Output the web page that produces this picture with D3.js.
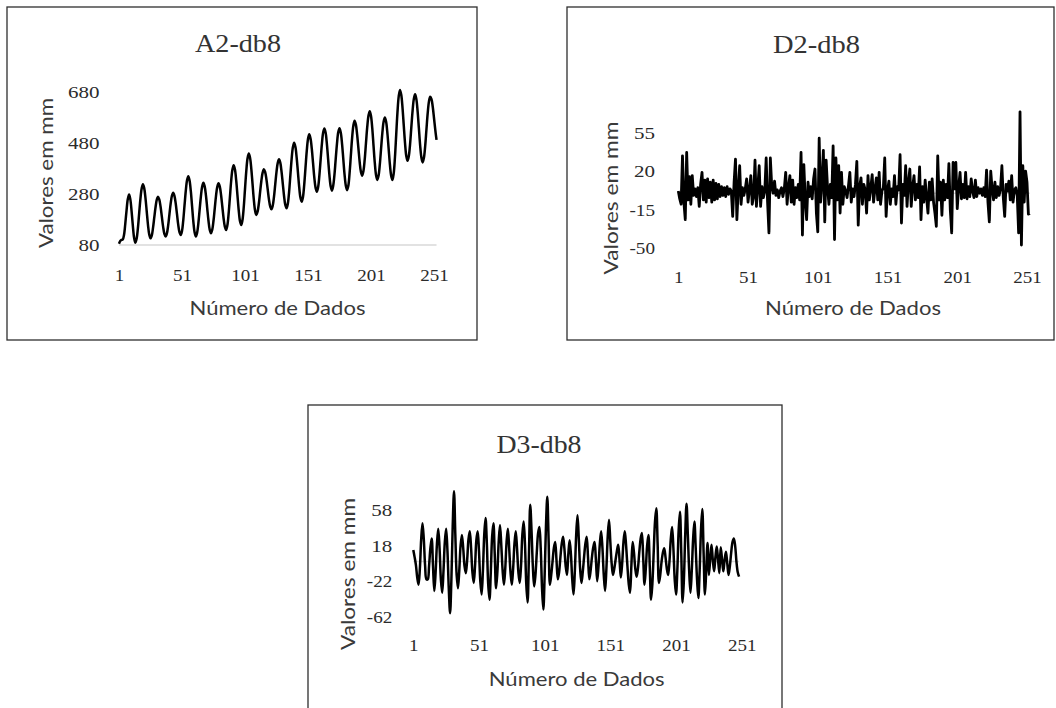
<!DOCTYPE html>
<html>
<head>
<meta charset="utf-8">
<script src="https://cdnjs.cloudflare.com/ajax/libs/d3/7.8.5/d3.min.js"></script>
<style>
  body { margin: 0; background: #fff; }
  svg { display: block; }
  .frame { fill: none; stroke: #2e2e2e; stroke-width: 1.3; }
  .title { font-family: "Liberation Serif", serif; font-size: 26px; fill: #333; }
  .tick text { font-family: "Liberation Serif", serif; font-size: 17px; fill: #2b2b2b; }
  .axis-title { font-family: Lato, "Liberation Sans", sans-serif; font-size: 20px; fill: #3a3a3a; }
  .series { fill: none; stroke: #000; stroke-width: 2.5; stroke-linejoin: round; }
  .dense { stroke-width: 2.8; }
  .zero { stroke: #d9d9d9; stroke-width: 1.5; }
</style>
</head>
<body>
<svg id="chart" width="1056" height="708"></svg>
<script>
// category ticks shared by the three panels
var xTicks = [1, 51, 101, 151, 201, 251];

var a2Ticks = [80, 280, 480, 680];
var d2Ticks = [-50, -15, 20, 55];
var d3Ticks = [-62, -22, 18, 58];

// approximation A2 (db8)
var a2Values = [
  85, 96, 100, 102, 120, 164, 216, 260, 278, 259,
  212, 155, 108, 89, 105, 146, 204, 261, 302, 318,
  303, 265, 212, 159, 121, 106, 117, 147, 188, 228,
  258, 269, 258, 230, 191, 152, 124, 113, 125, 156,
  199, 242, 273, 285, 273, 243, 202, 160, 130, 119,
  135, 177, 235, 292, 334, 350, 333, 291, 232, 172,
  130, 113, 128, 166, 219, 271, 309, 324, 310, 275,
  225, 176, 140, 126, 140, 175, 224, 273, 308, 322,
  309, 276, 231, 185, 152, 139, 157, 203, 266, 330,
  375, 393, 377, 334, 276, 217, 174, 158, 178, 228,
  299, 369, 419, 439, 422, 379, 319, 258, 215, 198,
  211, 243, 288, 332, 364, 377, 366, 338, 299, 259,
  231, 220, 234, 269, 318, 367, 402, 416, 403, 368,
  320, 272, 237, 224, 242, 288, 353, 417, 463, 481,
  465, 423, 366, 308, 266, 250, 268, 316, 382, 448,
  496, 514, 498, 458, 402, 345, 305, 289, 306, 351,
  413, 475, 520, 537, 520, 476, 415, 354, 310, 293,
  312, 356, 418, 478, 522, 538, 521, 478, 418, 357,
  313, 295, 312, 362, 430, 499, 548, 567, 552, 513,
  460, 406, 367, 352, 370, 415, 479, 542, 587, 605,
  586, 538, 470, 403, 354, 335, 352, 396, 458, 519,
  563, 580, 563, 519, 458, 396, 352, 335, 360, 423,
  512, 600, 663, 688, 669, 619, 549, 480, 429, 410,
  428, 475, 541, 606, 653, 671, 652, 604, 538, 471,
  423, 404, 422, 468, 533, 597, 643, 661, 652, 622,
  578, 532, 492
];

// detail D2 (db8)
var d2Values = [
  2, -5, -10, 34, -8, -24, 37, -6, 15, -10,
  16, -2, 4, -3, 5, -12, 8, 19, -6, 12,
  -8, 13, -4, 10, -8, 12, -6, 9, -5, 8,
  -3, 6, -2, 5, -3, 6, -1, 4, 2, -21,
  10, 31, -24, 4, 25, -10, 5, -2, 4, 13,
  -8, 3, 16, -10, -3, 30, -12, 5, 25, -12,
  6, -4, 2, 32, -8, -36, 32, 6, 0, 11,
  -2, 3, -4, 2, 5, -3, 4, 19, -10, 6,
  16, -8, 12, -10, 5, -4, 8, -6, 37, -38,
  26, -6, -24, 10, -3, 6, -5, 13, 22, -18,
  -35, 50, -8, 10, 39, -26, 30, 5, -10, 8,
  -4, 43, -42, 32, -6, 25, -18, 19, -10, 6,
  2, -4, 7, 19, -8, 4, -3, 8, 29, -29,
  6, 14, -10, 8, 3, -18, 16, -6, 5, 17,
  -8, 4, 14, -6, 19, -10, 2, 5, 32, -21,
  3, 11, -10, 4, -3, 16, -10, 6, 3, 35,
  -27, 8, -2, 25, -12, 10, 22, -12, 6, 16,
  -6, 8, -4, 24, -24, 6, -8, 12, -4, -18,
  10, -6, 13, -8, -18, -30, 34, -6, 10, -20,
  12, -6, 8, -4, 27, -15, -36, 28, 4, 28,
  -14, 6, 19, -5, 8, -4, 19, -5, 6, -3,
  13, 2, -4, 12, -3, 5, 0, 4, -2, 5,
  -3, 21, -8, -26, 20, 4, -6, 10, -4, 6,
  -2, 4, 25, -4, -21, 8, 2, 11, -6, 16,
  -8, 3, 5, -2, -36, 74, -47, 25, -8, 20,
  10, -19, -18
];

// detail D3 (db8)
var d3Values = [
  13, 5, -4, -18, -26, -8, 25, 43, 25, -5,
  -20, -20, -5, 15, 26, -5, -33, -12, 20, 37,
  15, -20, -35, -10, 22, 37, 12, -30, -58, -20,
  40, 79, 30, -15, -30, -10, 18, 30, 15, -5,
  -13, 2, 25, 34, 15, -12, -24, -5, 24, 34,
  12, -22, -37, -10, 30, 49, 20, -25, -43, -12,
  28, 43, 8, -30, -12, 22, 41, 18, -10, -26,
  -8, 22, 37, 15, -12, -26, -8, 20, 34, 14,
  -12, -24, -5, 30, 45, 20, -25, -46, 5, 64,
  35, -5, -28, -15, 10, 32, 39, 15, -30, -54,
  -15, 40, 73, 25, -26, -15, 0, 15, 22, 2,
  -20, -12, 5, 20, 28, 15, -5, -15, 8, 24,
  8, -20, -37, -10, 30, 52, 25, -8, -24, -12,
  5, 20, 28, 5, -20, -10, 5, 16, 22, 2,
  -22, -5, 20, 34, 15, -15, -33, -8, 28, 47,
  22, -2, -15, -8, 2, 12, 19, 2, -18, -2,
  22, 34, 18, -5, -25, -35, -5, 22, 10, -8,
  -17, -8, 10, 25, 32, 5, -26, -8, 18, 30,
  -5, -43, -25, 10, 45, 60, 20, -24, -15, 0,
  10, 15, 5, -8, -15, 0, 25, 39, 15, -20,
  -37, -10, 35, 56, 10, -46, -20, 30, 65, 30,
  -10, -35, -10, 25, 45, 15, -20, -41, -10, 35,
  59, 10, -37, -10, 21, -15, 2, 19, 2, -11,
  5, 17, 2, -13, 16, 3, -11, 2, 11, -2,
  -15, -5, 10, 22, 26, 18, 0, -12, -17
];

var panels = [
  { title: "A2-db8", values: a2Values, ticks: a2Ticks, base: 80, curve: d3.curveCatmullRom, dense: false,
    box: [7, 7, 470, 333], xr: [119, 434], yr: [245, 92],
    titleX: 238, titleY: 52, titleW: 86, yPad: 19.5, xOff: 30,
    xTitleX: 277.5, xTitleY: 315, yTitleX: 53, yTitleY: 173, yTitleW: 150 },
  { title: "D2-db8", values: d2Values, ticks: d2Ticks, base: 0, curve: d3.curveLinear, dense: true,
    box: [567, 7, 487, 333], xr: [678.3, 1027], yr: [248.3, 132.7],
    titleX: 816.5, titleY: 52.7, titleW: 87, yPad: 23.3, xOff: 28.4,
    xTitleX: 853, xTitleY: 315, yTitleX: 618, yTitleY: 198, yTitleW: 153 },
  { title: "D3-db8", values: d3Values, ticks: d3Ticks, base: 0, curve: d3.curveCatmullRom, dense: false,
    box: [308, 405, 474, 330], xr: [413.3, 741.7], yr: [616.7, 510],
    titleX: 539, titleY: 452.7, titleW: 85, yPad: 21, xOff: 28.3,
    xTitleX: 576.7, xTitleY: 685.7, yTitleX: 355, yTitleY: 574, yTitleW: 152 }
];

var svg = d3.select("#chart");

function labelWidth(s, digit) {
  var w = 0;
  for (var i = 0; i < s.length; i++) w += s[i] == "-" ? 4.5 : digit;
  return w;
}

function stretch(sel, digit) {
  sel.each(function(d) {
    this.setAttribute("textLength", labelWidth(String(d), digit));
    this.setAttribute("lengthAdjust", "spacingAndGlyphs");
  });
}

panels.forEach(function(p) {
  var g = svg.append("g");

  g.append("rect").attr("class", "frame")
    .attr("x", p.box[0]).attr("y", p.box[1])
    .attr("width", p.box[2]).attr("height", p.box[3]);

  var x = d3.scaleLinear().domain([1, 251]).range(p.xr);
  var y = d3.scaleLinear().domain([p.ticks[0], p.ticks[p.ticks.length - 1]]).range(p.yr);

  // horizontal axis line (Excel crosses at 0 or at the minimum)
  g.append("line").attr("class", "zero")
    .attr("x1", x(1)).attr("x2", x(p.values.length))
    .attr("y1", y(p.base)).attr("y2", y(p.base));

  var yAxis = g.append("g")
    .attr("transform", "translate(" + p.xr[0] + ",0)")
    .call(d3.axisLeft(y).tickValues(p.ticks).tickSize(0).tickPadding(p.yPad).tickFormat(String));
  yAxis.select(".domain").remove();
  stretch(yAxis.selectAll("text"), 10.5);

  var xAxis = g.append("g")
    .attr("transform", "translate(0," + p.yr[0] + ")")
    .call(d3.axisBottom(x).tickValues(xTicks).tickSize(0).tickFormat(String));
  xAxis.select(".domain").remove();
  xAxis.selectAll("text").attr("y", p.xOff).attr("dy", "0.35em");
  stretch(xAxis.selectAll("text"), 9.5);

  var line = d3.line()
    .x(function(d, i) { return x(i + 1); })
    .y(function(d) { return y(d); })
    .curve(p.curve);

  g.append("path").attr("class", p.dense ? "series dense" : "series").attr("d", line(p.values));

  g.append("text").attr("class", "title")
    .attr("x", p.titleX).attr("y", p.titleY)
    .attr("text-anchor", "middle")
    .attr("textLength", p.titleW).attr("lengthAdjust", "spacingAndGlyphs")
    .text(p.title);

  g.append("text").attr("class", "axis-title")
    .attr("x", p.xTitleX).attr("y", p.xTitleY)
    .attr("text-anchor", "middle")
    .attr("textLength", 176).attr("lengthAdjust", "spacingAndGlyphs")
    .text("Número de Dados");

  g.append("text").attr("class", "axis-title")
    .attr("transform", "translate(" + p.yTitleX + "," + p.yTitleY + ") rotate(-90)")
    .attr("text-anchor", "middle")
    .attr("textLength", p.yTitleW).attr("lengthAdjust", "spacingAndGlyphs")
    .text("Valores em mm");
});
</script>
</body>
</html>
